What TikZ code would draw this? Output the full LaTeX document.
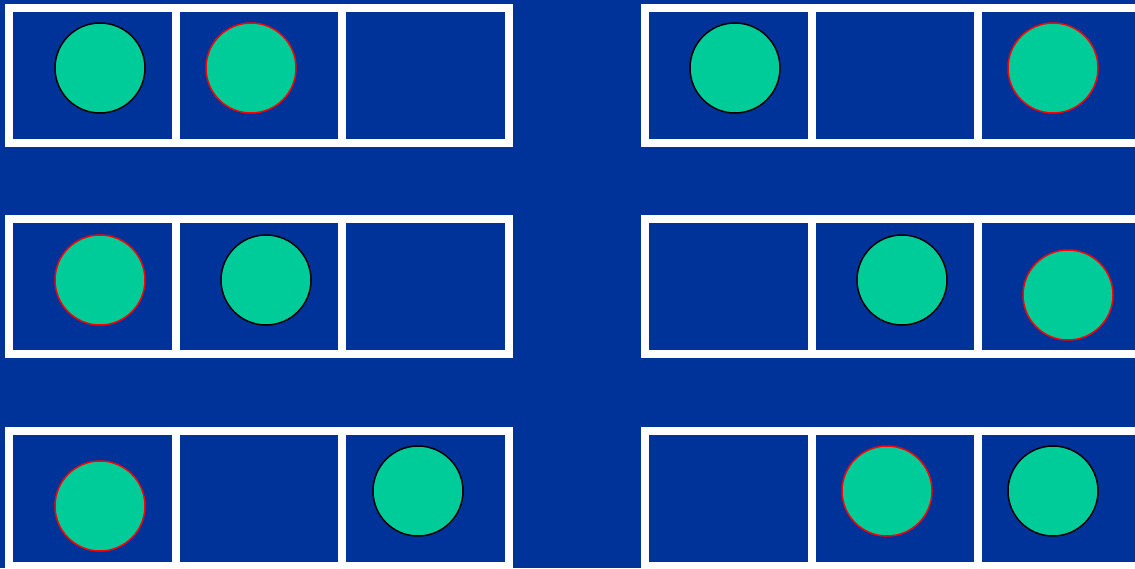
\documentclass[tikz,border=0pt]{standalone}
\usepackage{xcolor}
\usepackage{tikz}
\usetikzlibrary{positioning}
\definecolor{Royal}{HTML}{003399}
\definecolor{Jade}{HTML}{00CC99}

\begin{document}
\begin{tikzpicture}[
  x=0.2mm,y=-0.2mm,
  frame/.style={draw=white,line width=1.6mm},
  ball/.style={circle,fill=Jade,line width=0.3mm,minimum size=18mm,inner sep=0pt},
  blk/.style={ball,draw=black},
  rd/.style={ball,draw=red}
]
\fill[Royal] (0,0) rectangle (1135,568);
\clip (0,0) rectangle (1135,568);
% three rows of three cells, left and right
\foreach \y in {8,219,431} {
  \foreach \x in {9,645} {
    \draw[frame] (\x,\y) rectangle ++(500,135);
    \draw[frame] (\x+167,\y) -- ++(0,135);
    \draw[frame] (\x+333,\y) -- ++(0,135);
  }
}
% top row
\node[blk] (a1) at (100,68) {};
\node[rd] (a2) at (251,68) {};
\node[blk] (a3) at (735,68) {};
\node[rd] (a4) at (1053,68) {};
% middle row
\node[rd] (b1) at (100,280) {};
\node[blk] (b2) at (266,280) {};
\node[blk] (b3) at (902,280) {};
\node[rd] (b4) at (1068,295) {};
% bottom row
\node[rd] (c1) at (100,506) {};
\node[blk] (c2) at (418,491) {};
\node[rd] (c3) at (887,491) {};
\node[blk] (c4) at (1053,491) {};
\end{tikzpicture}
\end{document}
